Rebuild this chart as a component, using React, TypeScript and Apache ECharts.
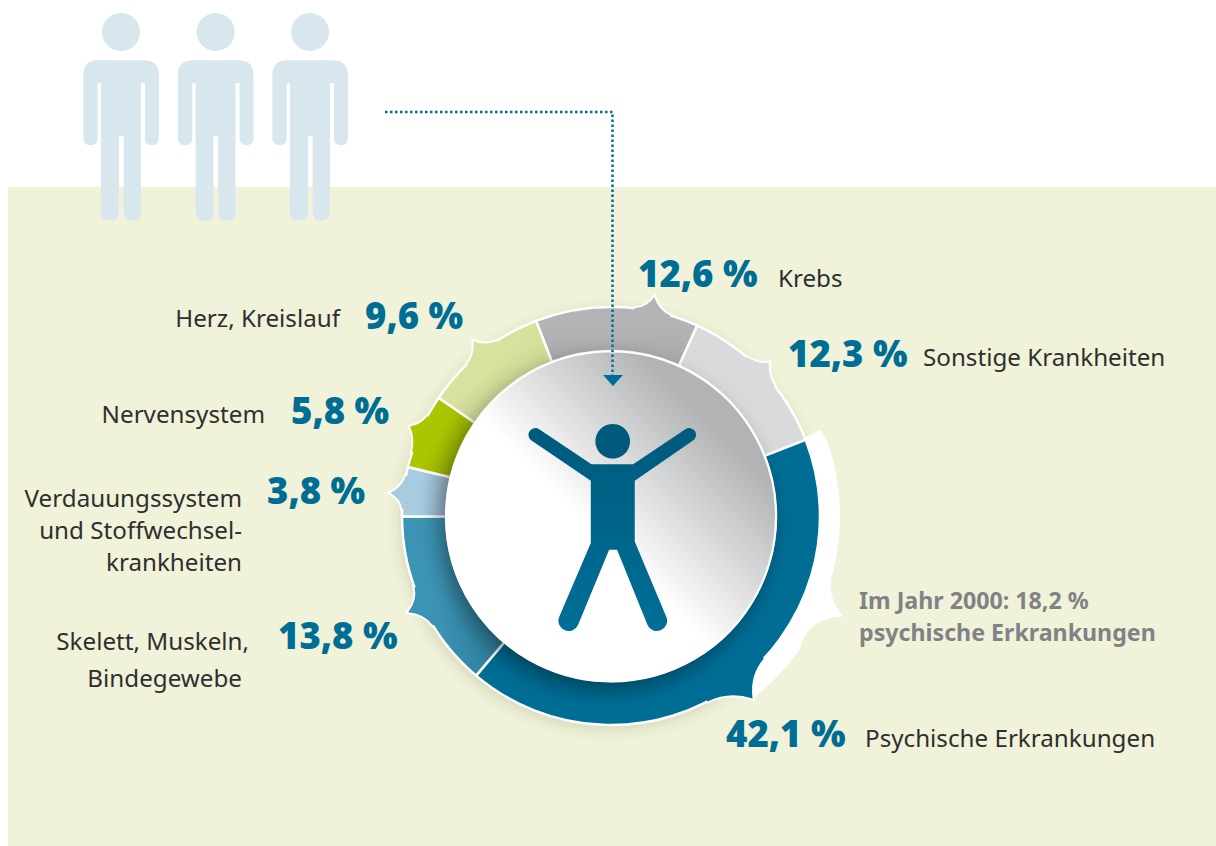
import React, { useEffect, useRef } from "react";
import * as echarts from "echarts";

const categories = ["Krebs", "Sonstige Krankheiten", "Psychische Erkrankungen", "Skelett, Muskeln, Bindegewebe", "Verdauungssystem und Stoffwechselkrankheiten", "Nervensystem", "Herz, Kreislauf"];
const values = [12.6, 12.3, 42.1, 13.8, 3.8, 5.8, 9.6];
const valueLabels = ["12,6 %", "12,3 %", "42,1 %", "13,8 %", "3,8 %", "5,8 %", "9,6 %"];
const nameLines = [["Krebs"], ["Sonstige Krankheiten"], ["Psychische Erkrankungen"], ["Skelett, Muskeln,", "Bindegewebe"], ["Verdauungssystem", "und Stoffwechsel-", "krankheiten"], ["Nervensystem"], ["Herz, Kreislauf"]];
const noteLines = ["Im Jahr 2000: 18,2 %", "psychische Erkrankungen"];

const CX = 611, CY = 516, R0 = 165, R1 = 209;
const TEAL = "#006d95";
const fontFamily = "'Noto Sans', 'Open Sans', sans-serif";
const valueFont = "'Open Sans', 'Noto Sans', sans-serif";

const grad = (x: number, y: number, x2: number, y2: number, a: string, b: string, flat = 0) => ({ type: "linear", x, y, x2, y2, colorStops: [{ offset: 0, color: a }, { offset: flat, color: a }, { offset: 1, color: b }] });
const sliceFills: any[] = [
  grad(0, 0, 0, 1, "#b3b4b6", "#a9aaac", 0.3),
  "#d9dadc",
  TEAL,
  grad(0, 0.4, 1, 0.6, "#3c94b5", "#2e7f9d", 0.35),
  grad(0, 0, 1, 0, "#a8cbe0", "#8fb0c4", 0.4),
  grad(0, 0.2, 1, 0.8, "#abc500", "#8ea500", 0.45),
  grad(0, 0, 1, 1, "#d8e29e", "#c4ce8a", 0.45),
];
const tabColors = ["#b3b4b6", "#d9dadc", TEAL, "#3c94b5", "#a8cbe0", "#abc500", "#d8e29e"];
// tab: from-angle, to-angle, tip-angle, tip-radius (degrees clockwise from 12 o'clock)
const tabShapes = [
  [6.5, 16.5, 11.2, 223],
  [40.5, 51.5, 45.9, 220],
  [133, 152.5, 142.2, 231],
  [238.5, 250, 244.6, 224.5],
  [272, 281, 276, 222],
  [288, 298.5, 294, 220],
  [316.5, 327, 321.8, 222.5],
];
const valuePos: [number, number][] = [[638, 273], [788, 353], [726, 733], [278, 635], [267, 490], [291, 410], [365, 315]];
const namePos: { x: number[]; y: number; align: string; lh: number }[] = [
  { x: [778], y: 277, align: "left", lh: 32 },
  { x: [923], y: 356, align: "left", lh: 32 },
  { x: [865], y: 737, align: "left", lh: 32 },
  { x: [249, 242], y: 640, align: "right", lh: 37 },
  { x: [242, 242, 242], y: 497, align: "right", lh: 32 },
  { x: [265], y: 413, align: "right", lh: 32 },
  { x: [340], y: 317, align: "right", lh: 32 },
];

const P = (deg: number, r: number) => {
  const a = (deg * Math.PI) / 180;
  return `${(CX + r * Math.sin(a)).toFixed(2)} ${(CY - r * Math.cos(a)).toFixed(2)}`;
};
const arc = (from: number, to: number, r: number) => {
  let s = "";
  const n = Math.max(2, Math.round(Math.abs(to - from) / 3));
  for (let i = 1; i <= n; i++) s += ` L ${P(from + ((to - from) * i) / n, r)}`;
  return s;
};
const tabPath = (t: number[]) => {
  const [a, b, m, r] = t;
  return `M ${P(a, R1)} Q ${P(m - (m - a) * 0.35, R1 + 2)} ${P(m, r)} Q ${P(m + (b - m) * 0.35, R1 + 2)} ${P(b, R1)} L ${P(b, R1 - 5)} L ${P(a, R1 - 5)} Z`;
};
const bandPath =
  `M ${P(68, 205)} L ${P(67.6, 226)}` + arc(67.6, 103.7, 229) +
  ` Q ${P(110, 227)} ${P(113.4, 253)} Q ${P(116.5, 227)} ${P(122.4, 228)}` + arc(122.4, 142.2, 231) +
  ` L ${P(142.2, 205)}` + arc(142.2, 68, 205) + " Z";
const personPath = "M 115 181 L 252 181 Q 297 181 297 226 L 297 415 Q 297 436 276 436 Q 255 436 255 415 L 255 250 L 243 250 L 243 638 Q 243 663 218 663 Q 191 663 191 638 L 191 408 L 177 408 L 177 638 Q 177 663 150 663 Q 123 663 123 638 L 123 250 L 113 250 L 113 415 Q 113 436 92 436 Q 70 436 70 415 L 70 226 Q 70 181 115 181 Z";
const figurePath = "M 635 553 L 760 553 L 917 448 A 20 20 0 0 1 940 482 L 765 603 L 765 785 L 860 1012 A 30 30 0 0 1 803 1035 L 712 810 L 688 810 L 595 1035 A 30 30 0 0 1 538 1012 L 633 790 L 633 603 L 455 482 A 20 20 0 0 1 478 448 Z";

echarts.graphic.registerShape("person", echarts.graphic.extendPath(personPath, {}));
echarts.graphic.registerShape("figure", echarts.graphic.extendPath(figurePath, {}));
echarts.graphic.registerShape("band", echarts.graphic.extendPath(bandPath, {}));
tabShapes.forEach((t, i) => echarts.graphic.registerShape("tab" + i, echarts.graphic.extendPath(tabPath(t), {})));

export default function App() {
  const ref = useRef<HTMLDivElement>(null);
  useEffect(() => {
    const chart = echarts.init(ref.current!, undefined, { renderer: "svg" });
    const els: any[] = [];
    els.push({ type: "rect", z: 0, silent: true, shape: { x: 8, y: 187, width: 1208, height: 659 }, style: { fill: "#f0f3d9" } });
    [0, 94.6, 189].forEach((dx) => {
      els.push({ type: "person", z: 0, silent: true, x: 60 + dx, y: 0, scaleX: 1 / 3, scaleY: 1 / 3, style: { fill: "#d8e7ee" } });
      els.push({ type: "circle", z: 0, silent: true, shape: { cx: 121 + dx, cy: 32, r: 19 }, style: { fill: "#d8e7ee" } });
    });
    els.push({ type: "circle", z: 1, silent: true, shape: { cx: CX, cy: CY, r: R1 }, style: { fill: "#fff", shadowColor: "rgba(60,70,30,0.18)", shadowBlur: 14, shadowOffsetX: -2, shadowOffsetY: 4 } });
    els.push({ type: "band", z: 1, silent: true, style: { fill: "#fff" } });
    tabShapes.forEach((_, i) => {
      els.push({ type: "tab" + i, z: 1, silent: true, style: { fill: "#fff", stroke: "#fff", lineWidth: 4, lineJoin: "miter" } });
      els.push({ type: "tab" + i, z: 3, silent: true, style: { fill: tabColors[i] } });
    });
    const discFill = { type: "linear", x: 0.08, y: 0.92, x2: 0.92, y2: 0.08, colorStops: [{ offset: 0, color: "#ffffff" }, { offset: 0.44, color: "#ffffff" }, { offset: 0.85, color: "#b2b3b5" }, { offset: 1, color: "#b2b3b5" }] };
    els.push({ type: "circle", z: 4, silent: true, shape: { cx: CX, cy: CY + 0.5, r: R0 }, style: { fill: "#fff", shadowColor: "rgba(0,0,0,0.4)", shadowBlur: 22, shadowOffsetX: -6, shadowOffsetY: 8 } });
    els.push({ type: "circle", z: 4, silent: true, shape: { cx: CX, cy: CY + 0.5, r: R0 }, style: { stroke: "#fff", lineWidth: 2, fill: discFill } });
    els.push({ type: "figure", z: 5, silent: true, x: 380, y: 280, scaleX: 1 / 3, scaleY: 1 / 3, style: { fill: grad(0, 0, 0, 1, "#005a7d", "#006f97") } });
    els.push({ type: "circle", z: 5, silent: true, shape: { cx: 612.7, cy: 441.3, r: 17.3 }, style: { fill: "#005a7d" } });
    els.push({ type: "polyline", z: 6, silent: true, shape: { points: [[385, 112], [612.5, 112], [612.5, 376]] }, style: { fill: "none", stroke: TEAL, lineWidth: 2.5, lineDash: [2.5, 2.5] } });
    els.push({ type: "polygon", z: 6, silent: true, shape: { points: [[603, 375], [623, 375], [613, 386]] }, style: { fill: TEAL } });
    valueLabels.forEach((v, i) => {
      els.push({ type: "text", z: 7, silent: true, x: valuePos[i][0], y: valuePos[i][1], style: { text: v, fill: TEAL, font: `800 36.5px ${valueFont}`, align: "left", verticalAlign: "middle" } });
      nameLines[i].forEach((line, k) => {
        els.push({ type: "text", z: 7, silent: true, x: namePos[i].x[k], y: namePos[i].y + k * namePos[i].lh, style: { text: line, fill: "#2f2f2f", font: `400 24.2px ${fontFamily}`, align: namePos[i].align, verticalAlign: "middle" } });
      });
    });
    noteLines.forEach((line, k) => {
      els.push({ type: "text", z: 7, silent: true, x: 859, y: 600 + k * 32, style: { text: line, fill: "#808285", font: `700 23.2px ${fontFamily}`, align: "left", verticalAlign: "middle" } });
    });
    chart.setOption({
      animation: false,
      backgroundColor: "#ffffff",
      graphic: { elements: els },
      series: [{
        type: "pie", z: 2, silent: true, center: [CX, CY], radius: [R0, R1], startAngle: 111, clockwise: true,
        label: { show: false }, labelLine: { show: false }, emphasis: { disabled: true },
        itemStyle: { borderColor: "#fff", borderWidth: 2.5 },
        data: categories.map((name, i) => ({ name, value: values[i], itemStyle: { color: sliceFills[i] } })),
      }],
    });
    return () => chart.dispose();
  }, []);
  return <div ref={ref} style={{ position: "fixed", left: 0, top: 0, width: 1216, height: 846 }} />;
}
